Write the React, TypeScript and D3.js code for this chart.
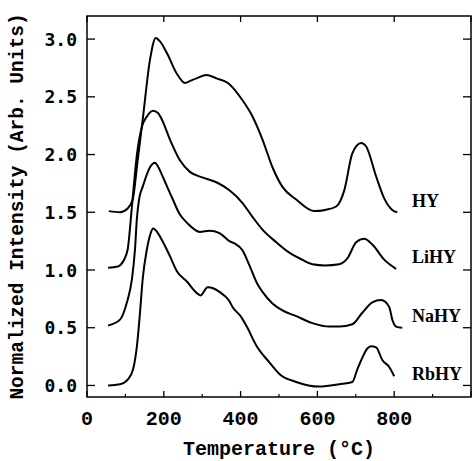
import React from "react";
import * as d3 from "d3";

const hyTemp = [57, 86, 105, 119, 132, 145, 164, 179, 190, 208, 234, 255, 270, 285, 311, 337, 367, 405, 431, 457, 483, 509, 545, 592, 620, 649, 670, 691, 714, 727, 753, 774, 795, 808];
const hyValues = [1.51, 1.5, 1.53, 1.61, 1.95, 2.3, 2.82, 3.01, 2.98, 2.88, 2.7, 2.62, 2.64, 2.66, 2.69, 2.66, 2.62, 2.47, 2.33, 2.13, 1.89, 1.72, 1.61, 1.51, 1.52, 1.55, 1.69, 2.01, 2.1, 2.07, 1.81, 1.62, 1.52, 1.5];

const lihyTemp = [55, 80, 95, 106, 117, 130, 143, 156, 172, 185, 194, 216, 242, 268, 302, 337, 371, 405, 431, 457, 493, 527, 560, 587, 620, 657, 678, 701, 722, 743, 774, 805];
const lihyValues = [1.02, 1.03, 1.08, 1.18, 1.55, 2.0, 2.24, 2.33, 2.38, 2.36, 2.31, 2.13, 1.95, 1.85, 1.8, 1.76, 1.69, 1.58, 1.46, 1.35, 1.24, 1.15, 1.09, 1.05, 1.04, 1.05, 1.1, 1.24, 1.27, 1.22, 1.09, 1.01];

const nahyTemp = [55, 86, 104, 117, 125, 130, 136, 145, 164, 177, 186, 197, 221, 242, 260, 294, 319, 345, 371, 384, 405, 423, 442, 457, 483, 509, 545, 587, 631, 657, 691, 717, 743, 766, 787, 795, 805, 821];
const nahyValues = [0.52, 0.57, 0.72, 0.92, 1.18, 1.45, 1.62, 1.72, 1.89, 1.93, 1.89, 1.81, 1.63, 1.48, 1.41, 1.33, 1.34, 1.32, 1.25, 1.23, 1.17, 1.04, 0.89, 0.81, 0.71, 0.65, 0.6, 0.54, 0.51, 0.51, 0.53, 0.63, 0.72, 0.74, 0.68, 0.57, 0.51, 0.5];

const rbhyTemp = [55, 86, 106, 120, 130, 138, 145, 156, 165, 172, 180, 195, 216, 234, 260, 286, 296, 314, 330, 345, 371, 379, 400, 416, 442, 475, 501, 545, 605, 657, 691, 704, 717, 730, 740, 753, 769, 787, 800];
const rbhyValues = [0.0, 0.01, 0.05, 0.14, 0.34, 0.63, 0.92, 1.18, 1.31, 1.36, 1.34, 1.26, 1.12, 0.99, 0.9, 0.8, 0.78, 0.85, 0.84, 0.81, 0.73, 0.68, 0.6, 0.51, 0.34, 0.2, 0.1, 0.03, -0.01, 0.01, 0.03, 0.14, 0.24, 0.32, 0.34, 0.33, 0.22, 0.16, 0.08];

const seriesNames = ["HY", "LiHY", "NaHY", "RbHY"];
const seriesLabelLevels = [1.55, 1.06, 0.55, 0.05];

const xTicks = [0, 200, 400, 600, 800];
const xMinorTicks = [100, 300, 500, 700, 900];
const yTicks = [0, 0.5, 1.0, 1.5, 2.0, 2.5, 3.0];

const W = 473;
const H = 461;
const left = 87;
const right = 471;
const top = 16;
const bottom = 397;

export default function App() {
  const x = d3.scaleLinear().domain([0, 1000]).range([left, right]);
  const y = d3.scaleLinear().domain([-0.1, 3.2]).range([bottom, top]);

  const series = [
    { t: hyTemp, v: hyValues },
    { t: lihyTemp, v: lihyValues },
    { t: nahyTemp, v: nahyValues },
    { t: rbhyTemp, v: rbhyValues },
  ];

  const line = d3
    .line<[number, number]>()
    .x((d) => x(d[0]))
    .y((d) => y(d[1]))
    .curve(d3.curveMonotoneX);

  const monoFont = "'Liberation Mono', 'Courier New', monospace";

  return (
    <svg
      width={W}
      height={H}
      style={{ position: "absolute", left: 0, top: 0, background: "#fff" }}
    >
      {/* frame */}
      <rect
        x={left}
        y={top}
        width={right - left}
        height={bottom - top}
        fill="none"
        stroke="#000"
        strokeWidth={1.5}
      />

      {/* x ticks bottom + top */}
      {xTicks.concat([1000]).map((t) => (
        <g key={"xt" + t}>
          <line x1={x(t)} x2={x(t)} y1={bottom} y2={bottom - 6} stroke="#000" strokeWidth={1.3} />
          <line x1={x(t)} x2={x(t)} y1={top} y2={top + 6} stroke="#000" strokeWidth={1.3} />
        </g>
      ))}
      {xMinorTicks.map((t) => (
        <line key={"xm" + t} x1={x(t)} x2={x(t)} y1={bottom} y2={bottom - 3} stroke="#000" strokeWidth={1.2} />
      ))}
      {xTicks.map((t) => (
        <text
          key={"xl" + t}
          x={x(t)}
          y={425}
          textAnchor="middle"
          fontFamily={monoFont}
          fontWeight="bold"
          fontSize={20}
        >
          {t}
        </text>
      ))}

      {/* y ticks left + right */}
      {yTicks.map((t) => (
        <g key={"yt" + t}>
          <line x1={left} x2={left + 8} y1={y(t)} y2={y(t)} stroke="#000" strokeWidth={1.3} />
          <line x1={right} x2={right - 8} y1={y(t)} y2={y(t)} stroke="#000" strokeWidth={1.3} />
          <text
            x={77}
            y={y(t) + 6.5}
            textAnchor="end"
            fontFamily="'DejaVu Sans Mono', monospace"
            fontWeight="bold"
            fontSize={18}
          >
            {t.toFixed(1)}
          </text>
        </g>
      ))}

      {/* curves */}
      {series.map((s, i) => (
        <path
          key={"s" + i}
          d={line(s.t.map((t, j) => [t, s.v[j]] as [number, number])) || ""}
          fill="none"
          stroke="#000"
          strokeWidth={2}
          strokeLinejoin="round"
        />
      ))}

      {/* series labels */}
      {seriesNames.map((n, i) => (
        <text
          key={"n" + n}
          x={412}
          y={y(seriesLabelLevels[i])}
          fontFamily="'Liberation Serif', serif"
          fontWeight="bold"
          fontSize={18}
        >
          {n}
        </text>
      ))}

      {/* axis titles */}
      <text
        x={(left + right) / 2}
        y={455}
        textAnchor="middle"
        fontFamily={monoFont}
        fontWeight="bold"
        fontSize={20}
      >
        Temperature (°C)
      </text>
      <text
        transform={`translate(18, ${(top + bottom) / 2}) rotate(-90)`}
        textAnchor="middle"
        dominantBaseline="central"
        fontFamily={monoFont}
        fontWeight="bold"
        fontSize={19.5}
      >
        Normalized Intensity (Arb. Units)
      </text>
    </svg>
  );
}
